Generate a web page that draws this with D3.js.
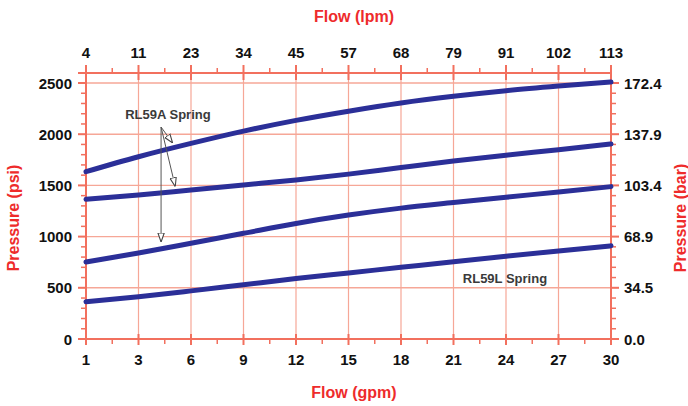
<!DOCTYPE html>
<html><head><meta charset="utf-8">
<script src="https://cdn.jsdelivr.net/npm/d3@7"></script>
<style>html,body{margin:0;padding:0;background:#fff;}svg{display:block;}</style>
</head><body>
<svg id="c" width="688" height="406"></svg>
<script>
const gpmLabels = ["1","3","6","9","12","15","18","21","24","27","30"];
const lpmLabels = ["4","11","23","34","45","57","68","79","91","102","113"];
const psiTicks = [0,500,1000,1500,2000,2500];
const barLabels = ["0.0","34.5","68.9","103.4","137.9","172.4"];
const rl59aHigh = [1634,1780,1910,2030,2135,2225,2305,2370,2425,2470,2510];
const rl59aMid  = [1364,1406,1455,1504,1553,1610,1675,1738,1795,1848,1904];
const rl59aLow  = [752,840,935,1032,1128,1210,1278,1332,1384,1436,1488];
const rl59l     = [364,413,470,530,590,645,700,755,808,860,910];

const svg = d3.select("#c");
const L=86,R=611,T=83,B=339,TOPAX=73;
const axisCol="#f2705e", gridCol="#f6a797", red="#ee2b2b";
const font="'Liberation Sans', Arial, sans-serif";

const xg = d3.scalePoint().domain(gpmLabels).range([L,R]);
const xl = d3.scalePoint().domain(lpmLabels).range([L,R]);
const xi = d3.scaleLinear().domain([0,10]).range([L,R]);
const y = d3.scaleLinear().domain([0,2500]).range([B,T]);
const yb = d3.scaleLinear().domain([0,172.4]).range([B,T]);

// grid
const g = svg.append("g");
g.selectAll(".vg").data(gpmLabels.slice(1,-1)).enter().append("line")
 .attr("x1",d=>xg(d)).attr("x2",d=>xg(d)).attr("y1",TOPAX).attr("y2",B)
 .attr("stroke",gridCol).attr("stroke-width",1.2);
g.selectAll(".hg").data(psiTicks.slice(1)).enter().append("line")
 .attr("x1",L).attr("x2",R).attr("y1",d=>y(d)).attr("y2",d=>y(d))
 .attr("stroke",gridCol).attr("stroke-width",1.4);

// axes lines
const ax = svg.append("g").attr("stroke",axisCol).attr("stroke-width",2);
ax.append("line").attr("x1",L-8).attr("x2",R+1).attr("y1",TOPAX).attr("y2",TOPAX);
ax.append("line").attr("x1",L-8).attr("x2",R+1).attr("y1",B).attr("y2",B);
ax.append("line").attr("x1",L).attr("x2",L).attr("y1",TOPAX-8).attr("y2",B+6);
ax.append("line").attr("x1",R).attr("x2",R).attr("y1",TOPAX-8).attr("y2",B+6);

const minorIdx = d3.range(0,10).map(i=>i+0.5);
const minorPsi = d3.range(0,2501,100).filter(v=>v%500!==0);
// bottom ticks
ax.selectAll(".bt").data(gpmLabels).enter().append("line")
 .attr("x1",d=>xg(d)).attr("x2",d=>xg(d)).attr("y1",B-5).attr("y2",B+6);
ax.selectAll(".bm").data(minorIdx).enter().append("line").attr("stroke-width",1.5)
 .attr("x1",d=>xi(d)).attr("x2",d=>xi(d)).attr("y1",B).attr("y2",B+5);
// top ticks
ax.selectAll(".tt").data(lpmLabels).enter().append("line")
 .attr("x1",d=>xl(d)).attr("x2",d=>xl(d)).attr("y1",TOPAX-8).attr("y2",TOPAX+7);
ax.selectAll(".tm").data(minorIdx).enter().append("line").attr("stroke-width",1.5)
 .attr("x1",d=>xi(d)).attr("x2",d=>xi(d)).attr("y1",TOPAX-5).attr("y2",TOPAX);
// left ticks
ax.selectAll(".lt").data(psiTicks).enter().append("line")
 .attr("x1",L-8).attr("x2",L).attr("y1",d=>y(d)).attr("y2",d=>y(d));
ax.selectAll(".lm").data(minorPsi).enter().append("line").attr("stroke-width",1.5)
 .attr("x1",L-5).attr("x2",L).attr("y1",d=>y(d)).attr("y2",d=>y(d));
// right ticks
ax.selectAll(".rt").data(psiTicks).enter().append("line")
 .attr("x1",R).attr("x2",R+8).attr("y1",d=>y(d)).attr("y2",d=>y(d));
ax.selectAll(".rm").data(minorPsi).enter().append("line").attr("stroke-width",1.5)
 .attr("x1",R).attr("x2",R+5).attr("y1",d=>y(d)).attr("y2",d=>y(d));

// tick labels
const tl = svg.append("g").attr("font-family",font).attr("font-weight","bold").attr("font-size",15).attr("fill","#111");
tl.selectAll(".bl").data(gpmLabels).enter().append("text")
 .attr("x",d=>xg(d)).attr("y",365).attr("text-anchor","middle").text(d=>d);
tl.selectAll(".tl").data(lpmLabels).enter().append("text")
 .attr("x",d=>xl(d)).attr("y",58).attr("text-anchor","middle").text(d=>d);
tl.selectAll(".ll").data(psiTicks).enter().append("text")
 .attr("x",72).attr("y",d=>y(d)+5.5).attr("text-anchor","end").text(d=>d);
tl.selectAll(".rl").data(barLabels).enter().append("text")
 .attr("x",624).attr("y",(d,i)=>yb(+d)+5.5).attr("text-anchor","start").text(d=>d);

// titles
const tt = svg.append("g").attr("font-family",font).attr("font-weight","bold").attr("font-size",16).attr("fill",red).attr("text-anchor","middle");
tt.append("text").attr("x",354).attr("y",22).text("Flow (lpm)");
tt.append("text").attr("x",354).attr("y",398).text("Flow (gpm)");
tt.append("text").attr("transform","translate(19,218) rotate(-90)").text("Pressure (psi)");
tt.append("text").attr("transform","translate(686,218) rotate(-90)").text("Pressure (bar)");

// curves
const line = d3.line().x((d,i)=>xg(gpmLabels[i])).y(d=>y(d)).curve(d3.curveMonotoneX);
[rl59aHigh,rl59aMid,rl59aLow,rl59l].forEach(s=>{
  svg.append("path").attr("d",line(s)).attr("fill","none")
   .attr("stroke","#2b2f98").attr("stroke-width",5).attr("stroke-linecap","round");
});

// annotations
const defs = svg.append("defs");
defs.append("marker").attr("id","ah").attr("viewBox","0 0 10 10").attr("refX",10).attr("refY",5)
 .attr("markerWidth",9).attr("markerHeight",9).attr("markerUnits","userSpaceOnUse").attr("orient","auto")
 .append("path").attr("d","M0,1.5 L10,5 L0,8.5 Z").attr("fill","#fff").attr("stroke","#444").attr("stroke-width",1.2);
const annFrom = {i:1.43, p:2070};
const annTo = [{i:1.65,p:1914},{i:1.70,p:1489},{i:1.43,p:947}];
annTo.forEach(t=>{
  svg.append("line").attr("x1",xi(annFrom.i)).attr("y1",y(annFrom.p)).attr("x2",xi(t.i)).attr("y2",y(t.p))
   .attr("stroke","#555").attr("stroke-width",1).attr("marker-end","url(#ah)");
});
const at = svg.append("g").attr("font-family",font).attr("font-weight","bold").attr("font-size",13).attr("fill","#3a3a3a").attr("text-anchor","middle");
at.append("text").attr("x",xi(1.56)).attr("y",y(2197)+4.5).text("RL59A Spring");
at.append("text").attr("x",xi(7.98)).attr("y",y(586)+4.5).text("RL59L Spring");
</script>
</body></html>
